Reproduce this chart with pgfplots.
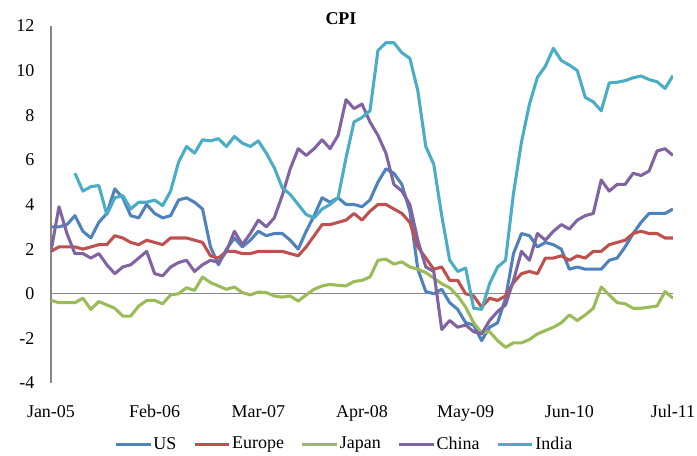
\documentclass[border=0pt]{standalone}
\usepackage{fontspec}
\setmainfont{Liberation Serif}
\usepackage{pgfplots}
\usepackage{pgfplotstable}
\pgfplotsset{compat=1.18}
\definecolor{cUS}{HTML}{4F81BD}
\definecolor{cEU}{HTML}{C0504D}
\definecolor{cJP}{HTML}{9BBB59}
\definecolor{cCN}{HTML}{8064A2}
\definecolor{cIN}{HTML}{4BACC6}
\definecolor{axgray}{HTML}{868686}

\pgfplotstableread{
m us eu jp cn in
0 3.0 1.9 -0.3 1.9 nan
1 3.0 2.1 -0.4 3.9 nan
2 3.1 2.1 -0.4 2.7 nan
3 3.5 2.1 -0.4 1.8 5.4
4 2.8 2.0 -0.2 1.8 4.6
5 2.5 2.1 -0.7 1.6 4.8
6 3.2 2.2 -0.35 1.8 4.85
7 3.6 2.2 -0.5 1.3 3.55
8 4.7 2.6 -0.65 0.9 4.3
9 4.3 2.5 -1.0 1.2 4.4
10 3.5 2.3 -1.0 1.3 3.8
11 3.4 2.2 -0.55 1.6 4.1
12 4.0 2.4 -0.3 1.9 4.1
13 3.6 2.3 -0.3 0.9 4.2
14 3.4 2.2 -0.45 0.8 3.95
15 3.5 2.5 -0.05 1.2 4.6
16 4.2 2.5 0.0 1.4 5.9
17 4.3 2.5 0.27 1.5 6.6
18 4.1 2.4 0.15 1.0 6.3
19 3.8 2.3 0.75 1.3 6.9
20 2.1 1.7 0.5 1.5 6.85
21 1.3 1.6 0.35 1.4 6.95
22 2.0 1.9 0.2 1.9 6.6
23 2.5 1.9 0.3 2.8 7.05
24 2.1 1.8 0.05 2.2 6.75
25 2.4 1.8 -0.05 2.7 6.6
26 2.8 1.9 0.08 3.3 6.85
27 2.6 1.9 0.05 3.0 6.3
28 2.7 1.9 -0.1 3.4 5.65
29 2.7 1.9 -0.15 4.4 4.75
30 2.4 1.8 -0.1 5.6 4.45
31 2.0 1.7 -0.33 6.5 4.0
32 2.8 2.1 -0.05 6.2 3.55
33 3.5 2.6 0.2 6.5 3.4
34 4.3 3.1 0.35 6.9 3.8
35 4.1 3.1 0.42 6.5 4.0
36 4.3 3.2 0.38 7.1 4.3
37 4.0 3.3 0.35 8.7 6.1
38 4.0 3.6 0.55 8.3 7.7
39 3.9 3.3 0.6 8.5 7.9
40 4.2 3.7 0.75 7.7 8.2
41 5.0 4.0 1.5 7.1 10.9
42 5.6 4.0 1.55 6.3 11.25
43 5.4 3.8 1.33 4.9 11.25
44 4.9 3.6 1.43 4.6 10.8
45 3.7 3.2 1.2 4.0 10.55
46 1.1 2.1 1.1 2.4 9.1
47 0.1 1.6 0.95 1.2 6.6
48 0.0 1.1 0.7 1.0 5.8
49 0.2 1.2 0.45 -1.6 3.5
50 -0.4 0.6 0.27 -1.2 1.5
51 -0.7 0.6 -0.1 -1.5 1.0
52 -1.3 0.0 -0.6 -1.4 1.15
53 -1.4 -0.1 -1.3 -1.7 -0.65
54 -2.1 -0.6 -1.75 -1.8 -0.7
55 -1.5 -0.2 -1.7 -1.2 0.45
56 -1.3 -0.3 -2.1 -0.8 1.2
57 -0.2 -0.1 -2.4 -0.5 1.5
58 1.8 0.5 -2.2 0.6 4.5
59 2.7 0.9 -2.2 1.9 6.8
60 2.6 1.0 -2.05 1.5 8.5
61 2.1 0.9 -1.8 2.7 9.7
62 2.3 1.6 -1.65 2.4 10.2
63 2.2 1.6 -1.5 2.8 11.0
64 2.0 1.7 -1.3 3.1 10.45
65 1.1 1.5 -0.95 2.9 10.25
66 1.2 1.7 -1.2 3.3 10.0
67 1.1 1.6 -0.95 3.5 8.8
68 1.1 1.9 -0.65 3.6 8.6
69 1.1 1.9 0.3 5.1 8.2
70 1.5 2.2 -0.05 4.6 9.45
71 1.6 2.3 -0.4 4.9 9.48
72 2.1 2.4 -0.45 4.9 9.55
73 2.7 2.7 -0.65 5.4 9.68
74 3.2 2.8 -0.65 5.3 9.76
75 3.6 2.7 -0.6 5.5 9.6
76 3.6 2.7 -0.55 6.4 9.5
77 3.6 2.5 0.1 6.5 9.2
78 3.8 2.5 -0.2 6.2 9.78
}\cpidata

\begin{document}
\begin{tikzpicture}[font=\fontsize{13.5}{16}\selectfont]
\useasboundingbox (0,0) rectangle (522.75pt,341.25pt);
\begin{axis}[
  at={(38.25pt,54pt)}, anchor=south west,
  width=466.5pt, height=267.75pt, scale only axis,
  xmin=0, xmax=78, ymin=-4, ymax=12,
  axis x line*=bottom, axis y line*=left,
  x axis line style={draw=none},
  y axis line style={draw=axgray, line width=0.9pt, -},
  xtick style={draw=none}, ytick style={draw=none},
  xtick={0,13,26,39,52,65,78},
  xticklabels={Jan-05,Feb-06,Mar-07,Apr-08,May-09,Jun-10,Jul-11},
  ytick={-4,-2,0,2,4,6,8,10,12},
  yticklabels={-4,-2,0,2,4,6,8,10,12},
  /pgf/number format/assume math mode=true,
  tick label style={font=\fontsize{13.5}{16}\selectfont},
  x tick label style={yshift=-13pt},
  y tick label style={xshift=-9pt},
  legend columns=5,
  legend style={at={(0.471,-0.171)}, anchor=center, draw=none, fill=none,
    font=\fontsize{13.5}{16}\selectfont,
    nodes={inner sep=1pt},
    /tikz/every even column/.append style={column sep=11.5pt},
    /tikz/every odd column/.append style={column sep=0pt},
    inner sep=0pt},
  legend cell align=left,
  legend image code/.code={\draw[#1] (0pt,0pt) -- (26pt,0pt);},
]
\draw[axgray, line width=0.9pt] (axis cs:0,0) -- (axis cs:78,0);
\addplot[cUS, line width=2.3pt, line join=round] table[x=m,y=us]{\cpidata};
\addlegendentry{US}
\addplot[cEU, line width=2.3pt, line join=round] table[x=m,y=eu]{\cpidata};
\addlegendentry{Europe}
\addplot[cJP, line width=2.3pt, line join=round] table[x=m,y=jp]{\cpidata};
\addlegendentry{Japan}
\addplot[cCN, line width=2.3pt, line join=round] table[x=m,y=cn]{\cpidata};
\addlegendentry{China}
\addplot[cIN, line width=2.3pt, line join=round] table[x=m,y=in]{\cpidata};
\addlegendentry{India}
\end{axis}
\node[font=\bfseries\fontsize{13.5}{16}\selectfont] at (255.75pt,327.4pt) {CPI};
\end{tikzpicture}
\end{document}
